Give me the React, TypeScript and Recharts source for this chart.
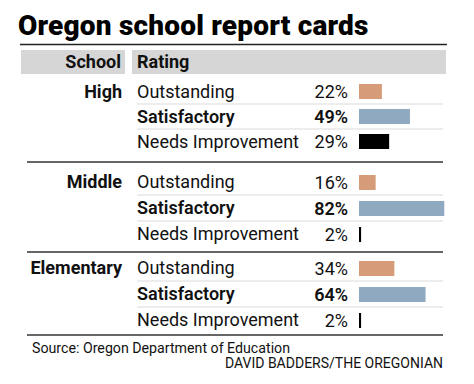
import { BarChart, Bar, XAxis, YAxis, Cell, LabelList } from 'recharts';

// Oregon school report cards: share of schools by rating
const schools = ['High', 'Middle', 'Elementary'];
const ratings = ['Outstanding', 'Satisfactory', 'Needs Improvement'];
const highValues = [22, 49, 29];
const middleValues = [16, 82, 2];
const elementaryValues = [34, 64, 2];

const ratingColors = ['#d69b78', '#8fa9c0', '#000000'];
const FONT = 'Roboto, "Open Sans", sans-serif';

const groups = [
  { school: schools[0], values: highValues, top: 79, height: 75 },
  { school: schools[1], values: middleValues, top: 168.5, height: 78 },
  { school: schools[2], values: elementaryValues, top: 255, height: 78 },
];

function RowTick(props: any) {
  const { y, payload, index, school, rowH } = props;
  return (
    <g fontFamily={FONT} fontSize={18} fill="#111">
      {index === 0 && (
        <text x={122} y={y + 6} textAnchor="end" fontWeight={700} fill="#111">
          {school}
        </text>
      )}
      <text x={137} y={y + 6} fontWeight={index === 1 ? 600 : 400} fill="#111">
        {payload.value}
      </text>
      {index < ratings.length - 1 && (
        <line x1={137} x2={443} y1={y + rowH / 2} y2={y + rowH / 2} stroke="#dcdcdc" strokeWidth={1.2} />
      )}
    </g>
  );
}

function PctLabel(props: any) {
  const { x, y, height, value, index } = props;
  return (
    <text
      x={x - 11}
      y={y + height / 2 + 6}
      textAnchor="end"
      fontFamily={FONT}
      fontSize={18}
      fontWeight={index === 1 ? 600 : 400}
      fill="#111"
    >
      {value}%
    </text>
  );
}

function GroupChart({ school, values, height }: { school: string; values: number[]; height: number }) {
  const data = ratings.map((rating, i) => ({ rating, value: values[i] }));
  const rowH = height / ratings.length;
  return (
    <BarChart
      width={474}
      height={height}
      data={data}
      layout="vertical"
      margin={{ top: 0, right: 11, bottom: 0, left: 0 }}
      barCategoryGap={0}
    >
      <XAxis type="number" domain={[0, 100]} hide />
      <YAxis
        type="category"
        dataKey="rating"
        width={359}
        axisLine={false}
        tickLine={false}
        interval={0}
        tick={(p: any) => <RowTick {...p} school={school} rowH={rowH} />}
      />
      <Bar dataKey="value" barSize={15} isAnimationActive={false}>
        {data.map((_, i) => (
          <Cell key={i} fill={ratingColors[i]} />
        ))}
        <LabelList dataKey="value" content={(p: any) => <PctLabel {...p} />} />
      </Bar>
    </BarChart>
  );
}

export default function App() {
  return (
    <div
      style={{
        position: 'absolute',
        left: 0,
        top: 0,
        width: 474,
        height: 384,
        background: '#fff',
        overflow: 'hidden',
      }}
    >
      <svg width={474} height={384} style={{ position: 'absolute', left: 0, top: 0 }}>
        <text x={18} y={35} fontFamily={FONT} fontSize={28} fontWeight={900} letterSpacing={0.2} fill="#000">
          Oregon school report cards
        </text>
        <line x1={20} x2={447} y1={44.5} y2={44.5} stroke="#222" strokeWidth={1.5} />
        <rect x={21} y={50} width={104} height={24} fill="#d6d6d6" />
        <rect x={132} y={50} width={314} height={24} fill="#d6d6d6" />
        <text x={121} y={68} textAnchor="end" fontFamily={FONT} fontSize={18} fontWeight={700} fill="#111">
          School
        </text>
        <text x={137} y={68} fontFamily={FONT} fontSize={18} fontWeight={700} fill="#111">
          Rating
        </text>
        <line x1={27} x2={443} y1={162} y2={162} stroke="#333" strokeWidth={1.5} />
        <line x1={27} x2={443} y1={252} y2={252} stroke="#333" strokeWidth={1.5} />
        <line x1={27} x2={443} y1={335} y2={335} stroke="#333" strokeWidth={1.5} />
        <text x={32} y={353} fontFamily={FONT} fontSize={14.2} fill="#111">
          Source: Oregon Department of Education
        </text>
        <text x={443} y={368} textAnchor="end" fontFamily={FONT} fontSize={14} fill="#111">
          DAVID BADDERS/THE OREGONIAN
        </text>
      </svg>
      {groups.map((g) => (
        <div key={g.school} style={{ position: 'absolute', left: 0, top: g.top }}>
          <GroupChart school={g.school} values={g.values} height={g.height} />
        </div>
      ))}
    </div>
  );
}
